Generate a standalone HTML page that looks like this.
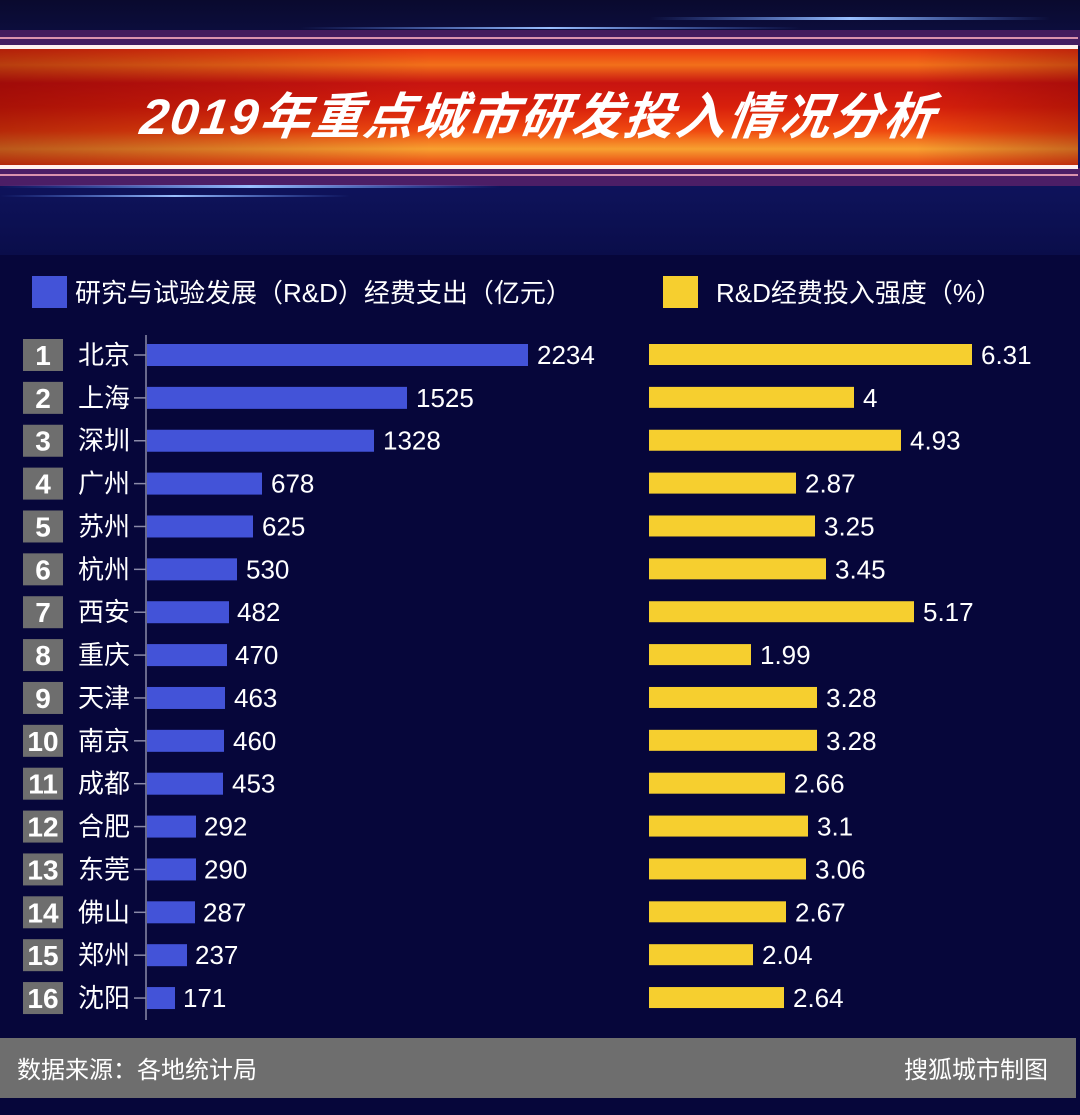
<!DOCTYPE html>
<html><head><meta charset="utf-8"><style>
html,body{margin:0;padding:0;background:#06063a;}
svg{display:block}
text{font-family:"Liberation Sans","Noto Sans CJK SC",sans-serif;}
</style></head><body>
<svg width="1080" height="1115" viewBox="0 0 1080 1115" xmlns="http://www.w3.org/2000/svg">
<defs>
<linearGradient id="hdr" x1="0" y1="0" x2="0" y2="1">
<stop offset="0" stop-color="#0a0a2e"/><stop offset="0.5" stop-color="#12186a"/><stop offset="1" stop-color="#0a0d4a"/>
</linearGradient>
<linearGradient id="red" x1="0" y1="0" x2="0" y2="1">
<stop offset="0" stop-color="#e8300f"/><stop offset="0.15" stop-color="#f2701a"/><stop offset="0.3" stop-color="#c81410"/><stop offset="0.5" stop-color="#d8200c"/><stop offset="0.7" stop-color="#f04a10"/><stop offset="0.85" stop-color="#f7a030"/><stop offset="1" stop-color="#e83a10"/>
</linearGradient>
<linearGradient id="redh" x1="0" y1="0" x2="1" y2="0">
<stop offset="0" stop-color="#700000" stop-opacity="0.45"/><stop offset="0.4" stop-color="#700000" stop-opacity="0"/><stop offset="0.85" stop-color="#700000" stop-opacity="0"/><stop offset="1" stop-color="#700000" stop-opacity="0.35"/>
</linearGradient>
<linearGradient id="bl" x1="0" y1="0" x2="1" y2="0">
<stop offset="0" stop-color="#5a8cff" stop-opacity="0"/><stop offset="0.5" stop-color="#9ac0ff"/><stop offset="1" stop-color="#5a8cff" stop-opacity="0"/>
</linearGradient>
</defs>
<rect width="1080" height="1115" fill="#06063a"/>
<rect width="1080" height="255" fill="url(#hdr)"/>
<rect x="0" y="30" width="1080" height="16" fill="#7a2a80" opacity="0.5"/>
<rect x="0" y="168" width="1080" height="18" fill="#8a2a70" opacity="0.5"/>
<rect x="650" y="17" width="400" height="3" fill="url(#bl)"/>
<rect x="300" y="27" width="500" height="2" fill="url(#bl)"/>
<rect x="0" y="185" width="500" height="3" fill="url(#bl)"/>
<rect x="0" y="195" width="350" height="2" fill="url(#bl)"/>
<rect x="0" y="47" width="1078" height="120" fill="url(#red)"/>
<rect x="0" y="47" width="1078" height="120" fill="url(#redh)"/>
<rect x="0" y="45" width="1078" height="4" fill="#fff0ee"/>
<rect x="0" y="37" width="1078" height="2" fill="#ffb0c0" opacity="0.8"/>
<rect x="0" y="165" width="1078" height="4" fill="#fff0ee"/>
<rect x="0" y="174" width="1078" height="2" fill="#ffb0c0" opacity="0.8"/>
<text x="538" y="134" text-anchor="middle" font-size="50" font-weight="bold" font-style="italic" letter-spacing="2" fill="#ffffff" transform="skewX(-8) translate(17,0)">2019年重点城市研发投入情况分析</text>

<rect x="32" y="276" width="35" height="32" fill="#4353d8"/>
<text x="75" y="302" font-size="26" fill="#ffffff">研究与试验发展（R&amp;D）经费支出（亿元）</text>
<rect x="663" y="276" width="35" height="32" fill="#f6cf2f"/>
<text x="716" y="302" font-size="26" fill="#ffffff">R&amp;D经费投入强度（%）</text>

<line x1="146" y1="335" x2="146" y2="1020" stroke="#8a8aa8" stroke-width="1.5"/>
<g fill="#ffffff" font-size="26">
<g transform="translate(0,355)"><rect x="23" y="-16" width="40" height="32" fill="#6e6e6e"/><text x="43" y="10" text-anchor="middle" font-size="28" font-weight="bold">1</text><text x="78" y="9">北京</text><line x1="134" y1="0" x2="146" y2="0" stroke="#8a8aa8" stroke-width="1.5"/><rect x="147" y="-11" width="381" height="22" fill="#4353d8"/><text x="537" y="9">2234</text><rect x="649" y="-11" width="323" height="21" fill="#f6cf2f"/><text x="981" y="9">6.31</text></g>
<g transform="translate(0,397.87)"><rect x="23" y="-16" width="40" height="32" fill="#6e6e6e"/><text x="43" y="10" text-anchor="middle" font-size="28" font-weight="bold">2</text><text x="78" y="9">上海</text><line x1="134" y1="0" x2="146" y2="0" stroke="#8a8aa8" stroke-width="1.5"/><rect x="147" y="-11" width="260" height="22" fill="#4353d8"/><text x="416" y="9">1525</text><rect x="649" y="-11" width="205" height="21" fill="#f6cf2f"/><text x="863" y="9">4</text></g>
<g transform="translate(0,440.74)"><rect x="23" y="-16" width="40" height="32" fill="#6e6e6e"/><text x="43" y="10" text-anchor="middle" font-size="28" font-weight="bold">3</text><text x="78" y="9">深圳</text><line x1="134" y1="0" x2="146" y2="0" stroke="#8a8aa8" stroke-width="1.5"/><rect x="147" y="-11" width="227" height="22" fill="#4353d8"/><text x="383" y="9">1328</text><rect x="649" y="-11" width="252" height="21" fill="#f6cf2f"/><text x="910" y="9">4.93</text></g>
<g transform="translate(0,483.61)"><rect x="23" y="-16" width="40" height="32" fill="#6e6e6e"/><text x="43" y="10" text-anchor="middle" font-size="28" font-weight="bold">4</text><text x="78" y="9">广州</text><line x1="134" y1="0" x2="146" y2="0" stroke="#8a8aa8" stroke-width="1.5"/><rect x="147" y="-11" width="115" height="22" fill="#4353d8"/><text x="271" y="9">678</text><rect x="649" y="-11" width="147" height="21" fill="#f6cf2f"/><text x="805" y="9">2.87</text></g>
<g transform="translate(0,526.48)"><rect x="23" y="-16" width="40" height="32" fill="#6e6e6e"/><text x="43" y="10" text-anchor="middle" font-size="28" font-weight="bold">5</text><text x="78" y="9">苏州</text><line x1="134" y1="0" x2="146" y2="0" stroke="#8a8aa8" stroke-width="1.5"/><rect x="147" y="-11" width="106" height="22" fill="#4353d8"/><text x="262" y="9">625</text><rect x="649" y="-11" width="166" height="21" fill="#f6cf2f"/><text x="824" y="9">3.25</text></g>
<g transform="translate(0,569.35)"><rect x="23" y="-16" width="40" height="32" fill="#6e6e6e"/><text x="43" y="10" text-anchor="middle" font-size="28" font-weight="bold">6</text><text x="78" y="9">杭州</text><line x1="134" y1="0" x2="146" y2="0" stroke="#8a8aa8" stroke-width="1.5"/><rect x="147" y="-11" width="90" height="22" fill="#4353d8"/><text x="246" y="9">530</text><rect x="649" y="-11" width="177" height="21" fill="#f6cf2f"/><text x="835" y="9">3.45</text></g>
<g transform="translate(0,612.22)"><rect x="23" y="-16" width="40" height="32" fill="#6e6e6e"/><text x="43" y="10" text-anchor="middle" font-size="28" font-weight="bold">7</text><text x="78" y="9">西安</text><line x1="134" y1="0" x2="146" y2="0" stroke="#8a8aa8" stroke-width="1.5"/><rect x="147" y="-11" width="82" height="22" fill="#4353d8"/><text x="237" y="9">482</text><rect x="649" y="-11" width="265" height="21" fill="#f6cf2f"/><text x="923" y="9">5.17</text></g>
<g transform="translate(0,655.09)"><rect x="23" y="-16" width="40" height="32" fill="#6e6e6e"/><text x="43" y="10" text-anchor="middle" font-size="28" font-weight="bold">8</text><text x="78" y="9">重庆</text><line x1="134" y1="0" x2="146" y2="0" stroke="#8a8aa8" stroke-width="1.5"/><rect x="147" y="-11" width="80" height="22" fill="#4353d8"/><text x="235" y="9">470</text><rect x="649" y="-11" width="102" height="21" fill="#f6cf2f"/><text x="760" y="9">1.99</text></g>
<g transform="translate(0,697.96)"><rect x="23" y="-16" width="40" height="32" fill="#6e6e6e"/><text x="43" y="10" text-anchor="middle" font-size="28" font-weight="bold">9</text><text x="78" y="9">天津</text><line x1="134" y1="0" x2="146" y2="0" stroke="#8a8aa8" stroke-width="1.5"/><rect x="147" y="-11" width="78" height="22" fill="#4353d8"/><text x="234" y="9">463</text><rect x="649" y="-11" width="168" height="21" fill="#f6cf2f"/><text x="826" y="9">3.28</text></g>
<g transform="translate(0,740.83)"><rect x="23" y="-16" width="40" height="32" fill="#6e6e6e"/><text x="43" y="10" text-anchor="middle" font-size="28" font-weight="bold">10</text><text x="78" y="9">南京</text><line x1="134" y1="0" x2="146" y2="0" stroke="#8a8aa8" stroke-width="1.5"/><rect x="147" y="-11" width="77" height="22" fill="#4353d8"/><text x="233" y="9">460</text><rect x="649" y="-11" width="168" height="21" fill="#f6cf2f"/><text x="826" y="9">3.28</text></g>
<g transform="translate(0,783.7)"><rect x="23" y="-16" width="40" height="32" fill="#6e6e6e"/><text x="43" y="10" text-anchor="middle" font-size="28" font-weight="bold">11</text><text x="78" y="9">成都</text><line x1="134" y1="0" x2="146" y2="0" stroke="#8a8aa8" stroke-width="1.5"/><rect x="147" y="-11" width="76" height="22" fill="#4353d8"/><text x="232" y="9">453</text><rect x="649" y="-11" width="136" height="21" fill="#f6cf2f"/><text x="794" y="9">2.66</text></g>
<g transform="translate(0,826.57)"><rect x="23" y="-16" width="40" height="32" fill="#6e6e6e"/><text x="43" y="10" text-anchor="middle" font-size="28" font-weight="bold">12</text><text x="78" y="9">合肥</text><line x1="134" y1="0" x2="146" y2="0" stroke="#8a8aa8" stroke-width="1.5"/><rect x="147" y="-11" width="49" height="22" fill="#4353d8"/><text x="204" y="9">292</text><rect x="649" y="-11" width="159" height="21" fill="#f6cf2f"/><text x="817" y="9">3.1</text></g>
<g transform="translate(0,869.44)"><rect x="23" y="-16" width="40" height="32" fill="#6e6e6e"/><text x="43" y="10" text-anchor="middle" font-size="28" font-weight="bold">13</text><text x="78" y="9">东莞</text><line x1="134" y1="0" x2="146" y2="0" stroke="#8a8aa8" stroke-width="1.5"/><rect x="147" y="-11" width="49" height="22" fill="#4353d8"/><text x="204" y="9">290</text><rect x="649" y="-11" width="157" height="21" fill="#f6cf2f"/><text x="815" y="9">3.06</text></g>
<g transform="translate(0,912.31)"><rect x="23" y="-16" width="40" height="32" fill="#6e6e6e"/><text x="43" y="10" text-anchor="middle" font-size="28" font-weight="bold">14</text><text x="78" y="9">佛山</text><line x1="134" y1="0" x2="146" y2="0" stroke="#8a8aa8" stroke-width="1.5"/><rect x="147" y="-11" width="48" height="22" fill="#4353d8"/><text x="203" y="9">287</text><rect x="649" y="-11" width="137" height="21" fill="#f6cf2f"/><text x="795" y="9">2.67</text></g>
<g transform="translate(0,955.18)"><rect x="23" y="-16" width="40" height="32" fill="#6e6e6e"/><text x="43" y="10" text-anchor="middle" font-size="28" font-weight="bold">15</text><text x="78" y="9">郑州</text><line x1="134" y1="0" x2="146" y2="0" stroke="#8a8aa8" stroke-width="1.5"/><rect x="147" y="-11" width="40" height="22" fill="#4353d8"/><text x="195" y="9">237</text><rect x="649" y="-11" width="104" height="21" fill="#f6cf2f"/><text x="762" y="9">2.04</text></g>
<g transform="translate(0,998.05)"><rect x="23" y="-16" width="40" height="32" fill="#6e6e6e"/><text x="43" y="10" text-anchor="middle" font-size="28" font-weight="bold">16</text><text x="78" y="9">沈阳</text><line x1="134" y1="0" x2="146" y2="0" stroke="#8a8aa8" stroke-width="1.5"/><rect x="147" y="-11" width="28" height="22" fill="#4353d8"/><text x="183" y="9">171</text><rect x="649" y="-11" width="135" height="21" fill="#f6cf2f"/><text x="793" y="9">2.64</text></g>
</g>

<rect x="0" y="1038" width="1076" height="60" fill="#6e6e6e"/>
<text x="17" y="1078" font-size="24" fill="#ffffff">数据来源：各地统计局</text>
<text x="1048" y="1078" font-size="24" fill="#ffffff" text-anchor="end">搜狐城市制图</text>
</svg>
</body></html>
